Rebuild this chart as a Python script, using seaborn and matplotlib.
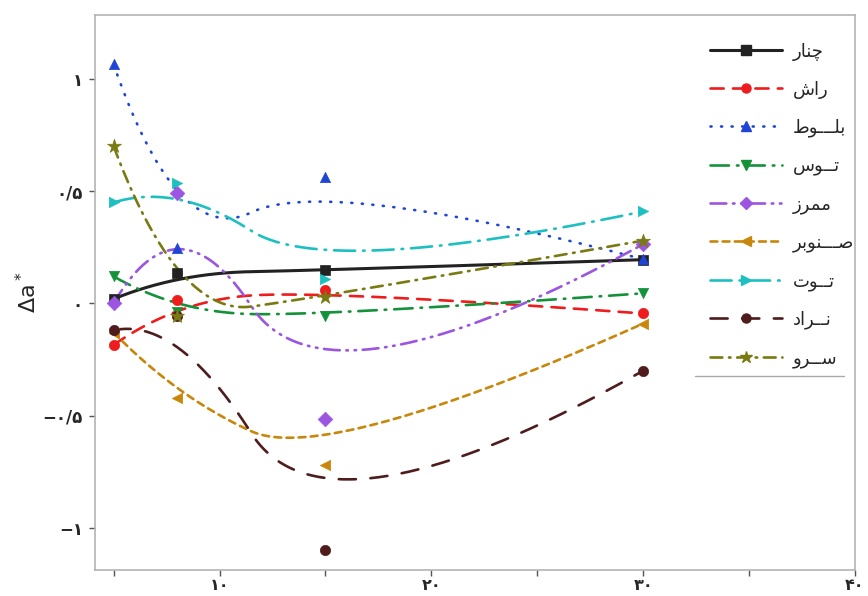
import numpy as np
import pandas as pd
import matplotlib
matplotlib.use("Agg")
import matplotlib.pyplot as plt
from matplotlib.lines import Line2D
from matplotlib.ticker import FixedLocator
import seaborn as sns

# sample positions (x) and measured values for each wood species
x_vals = [5, 8, 15, 30]

chenar = [0.02, 0.135, 0.148, 0.195]
rash = [-0.185, 0.013, 0.058, -0.045]
baloot = [1.065, 0.246, 0.565, 0.197]
toos = [0.12, -0.04, -0.055, 0.045]
mommerz = [0.0, 0.49, -0.515, 0.264]
senobar = [-0.13, -0.42, -0.72, -0.09]
toot = [0.45, 0.537, 0.11, 0.41]
nrad = [-0.12, -0.058, -1.1, -0.30]
sarv = [0.70, -0.058, 0.03, 0.28]

names = ['چنار', 'راش', 'بلـــوط', 'تــوس', 'ممرز', 'صـــنوبر', 'تــوت', 'نــراد', 'ســرو']
values = [chenar, rash, baloot, toos, mommerz, senobar, toot, nrad, sarv]

y_ticks = [-1, -0.5, 0, 0.5, 1]
y_tick_labels = ['−۱', '−۰/۵', '۰', '۰/۵', '۱']
x_ticks = [10, 20, 30, 40]
x_tick_labels = ['۱۰', '۲۰', '۳۰', '۴۰']

colors = ['#222222', '#ee1c1c', '#1f44d6', '#14923a', '#9b55e0',
          '#c8860a', '#1cc0c0', '#4e1c1c', '#7a7a12']
markers = ['s', 'o', '^', 'v', 'D', '<', '>', 'o', '*']
styles = ['-', (0, (5, 3.5)), (0, (0.4, 3.6)), (0, (7, 3, 0.6, 3)),
          (0, (6, 2.5, 0.6, 2.5, 0.6, 2.5)), (0, (2.6, 2)), (0, (8, 3, 0.6, 3)),
          (0, (6.5, 5.5)), (0, (4.5, 2.5, 0.6, 2.5))]

# --- minimal Persian shaping (presentation forms), matplotlib has no shaper
FORMS = {
    'ا': ('\uFE8D', '\uFE8E', None, None),
    'ب': ('\uFE8F', '\uFE90', '\uFE91', '\uFE92'),
    'ت': ('\uFE95', '\uFE96', '\uFE97', '\uFE98'),
    'چ': ('\uFB7A', '\uFB7B', '\uFB7C', '\uFB7D'),
    'د': ('\uFEA9', '\uFEAA', None, None),
    'ر': ('\uFEAD', '\uFEAE', None, None),
    'ز': ('\uFEAF', '\uFEB0', None, None),
    'س': ('\uFEB1', '\uFEB2', '\uFEB3', '\uFEB4'),
    'ش': ('\uFEB5', '\uFEB6', '\uFEB7', '\uFEB8'),
    'ص': ('\uFEB9', '\uFEBA', '\uFEBB', '\uFEBC'),
    'ط': ('\uFEC1', '\uFEC2', '\uFEC3', '\uFEC4'),
    'ل': ('\uFEDD', '\uFEDE', '\uFEDF', '\uFEE0'),
    'م': ('\uFEE1', '\uFEE2', '\uFEE3', '\uFEE4'),
    'ن': ('\uFEE5', '\uFEE6', '\uFEE7', '\uFEE8'),
    'و': ('\uFEED', '\uFEEE', None, None),
}
TATWEEL = 'ـ'


def joins_left(ch):
    return ch == TATWEEL or (ch in FORMS and FORMS[ch][2] is not None)


def shape(word):
    out = []
    for i, c in enumerate(word):
        if c not in FORMS:
            out.append(c)
            continue
        prev = word[i - 1] if i > 0 else None
        nxt = word[i + 1] if i < len(word) - 1 else None
        jp = prev is not None and joins_left(prev)
        jn = (nxt is not None and FORMS[c][2] is not None
              and (nxt in FORMS or nxt == TATWEEL))
        iso, fin, ini, med = FORMS[c]
        if jp and jn:
            out.append(med)
        elif jp:
            out.append(fin)
        elif jn:
            out.append(ini)
        else:
            out.append(iso)
    return ''.join(reversed(out))


def bspline2(xs, ys, n=80):
    """clamped quadratic B-spline, data points used as control points"""
    p = np.column_stack([xs, ys]).astype(float)
    mids = (p[1:-2] + p[2:-1]) / 2
    starts = [p[0]] + list(mids)
    ends = list(mids) + [p[-1]]
    ctrls = p[1:-1]
    t = np.linspace(0, 1, n)[:, None]
    segs = []
    for a, c, b in zip(starts, ctrls, ends):
        segs.append((1 - t) ** 2 * a + 2 * t * (1 - t) * c + t ** 2 * b)
    return np.vstack(segs)


sns.set_style('white')
plt.rcParams['font.family'] = ['DejaVu Sans']

fig = plt.figure(figsize=(8.68, 5.96), dpi=100)
ax = fig.add_axes([0.109, 0.043, 0.876, 0.932])

handles = []
for i, (name, vals) in enumerate(zip(names, values)):
    curve = bspline2(x_vals, vals)
    df = pd.DataFrame({'x': curve[:, 0], 'y': curve[:, 1]})
    lw = 2.2 if i == 0 else 1.9
    sns.lineplot(data=df, x='x', y='y', ax=ax, color=colors[i], sort=False,
                 estimator=None, linewidth=lw,
                 linestyle=styles[i], dash_capstyle='round', zorder=2)
    pts = pd.DataFrame({'x': x_vals, 'y': vals})
    sz = 110 if markers[i] == '*' else 55
    sns.scatterplot(data=pts, x='x', y='y', ax=ax, color=colors[i],
                    marker=markers[i], s=sz, edgecolor=colors[i],
                    linewidth=0.5, zorder=3)
    handles.append(Line2D([0], [0], color=colors[i], linestyle=styles[i],
                          linewidth=lw, marker=markers[i],
                          markersize=9 if markers[i] == '*' else 6.5,
                          dash_capstyle='round', label=shape(name)))

ax.set_xlim(4.1, 40.0)
ax.set_ylim(-1.19, 1.286)
ax.xaxis.set_major_locator(FixedLocator(x_ticks))
ax.xaxis.set_minor_locator(FixedLocator([5, 15, 25, 35]))
ax.set_xticklabels(x_tick_labels)
ax.set_yticks(y_ticks)
ax.set_yticklabels(y_tick_labels)
ax.tick_params(axis='both', which='both', direction='out', length=4.5,
               width=1, color='#555555', labelsize=12, pad=4)
ax.tick_params(axis='x', which='major', pad=1, labelsize=11.5)
for lab in ax.get_xticklabels() + ax.get_yticklabels():
    lab.set_fontweight('bold')
ax.xaxis.set_ticks_position('bottom')
ax.yaxis.set_ticks_position('left')

for sp in ax.spines.values():
    sp.set_color('#b4b4b4')
    sp.set_linewidth(1.2)

ax.set_xlabel('')
ax.set_ylabel(r'$\Delta$a$^*$', fontsize=16, labelpad=2)

leg = ax.legend(handles=handles, loc='upper left', bbox_to_anchor=(0.8, 0.963),
                frameon=False, fontsize=13, handlelength=4.0, handletextpad=0.6,
                labelspacing=1.1, borderaxespad=0, numpoints=1)
ax.add_line(Line2D([0.79, 0.985], [0.35, 0.35], transform=ax.transAxes,
                   color='#aaaaaa', linewidth=1))

fig.savefig('out.png', dpi=100)
